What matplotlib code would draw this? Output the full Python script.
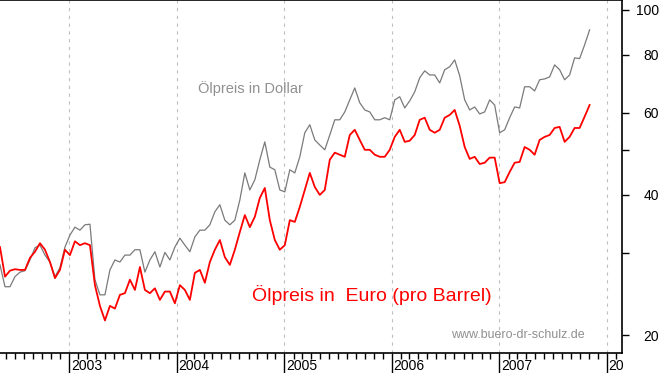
import matplotlib
matplotlib.use("Agg")
import matplotlib.pyplot as plt
import matplotlib.dates as mdates
import matplotlib.ticker as mticker
import numpy as np
import pandas as pd

dates = pd.date_range("2002-05-11", "2007-11-03", periods=119)

dollar = [28.3, 25.4, 25.4, 26.7, 27.3, 27.5, 29.0, 30.8, 31.2, 29.7,
          28.7, 26.7, 27.9, 30.9, 32.8, 34.1, 33.6, 34.5, 34.6, 26.3,
          24.4, 24.4, 27.6, 29.0, 28.7, 29.7, 29.7, 30.5, 30.5, 27.3,
          29.0, 30.2, 28.0, 30.1, 29.0, 30.9, 32.3, 31.2, 30.2, 32.5,
          33.6, 33.6, 34.5, 36.8, 38.1, 35.3, 34.5, 35.3, 39.0, 44.6,
          41.0, 43.1, 47.6, 52.0, 45.9, 45.3, 41.0, 40.6, 45.3, 44.6,
          48.3, 54.4, 56.6, 52.5, 51.2, 50.0, 53.8, 58.0, 58.0, 60.3,
          64.0, 67.9, 63.1, 60.9, 60.3, 58.0, 58.0, 58.6, 58.0, 64.0,
          65.0, 61.5, 63.7, 66.6, 71.4, 73.9, 72.4, 72.4, 69.6, 74.3,
          75.4, 78.0, 72.1, 64.0, 60.9, 61.8, 59.7, 60.3, 64.0, 62.4,
          54.4, 55.2, 58.6, 61.8, 61.5, 68.3, 68.3, 66.9, 70.7, 71.0,
          71.7, 76.1, 74.3, 70.7, 72.4, 78.8, 78.5, 84.0, 90.5]

euro = [30.9, 26.7, 27.5, 27.7, 27.6, 27.6, 29.3, 30.2, 31.5, 30.5,
        28.7, 26.5, 27.6, 30.5, 29.7, 31.8, 31.2, 31.5, 31.2, 25.6,
        23.1, 21.5, 23.1, 22.8, 24.4, 24.6, 26.3, 25.0, 28.0, 25.0,
        24.6, 25.2, 23.8, 24.8, 24.8, 23.4, 25.6, 25.0, 23.8, 27.2,
        27.6, 25.9, 28.7, 30.5, 32.0, 29.4, 28.3, 30.5, 33.3, 36.2,
        34.1, 35.9, 39.4, 41.4, 35.3, 32.0, 30.5, 31.2, 35.3, 35.0,
        37.7, 41.0, 44.6, 41.6, 40.0, 41.0, 47.6, 49.3, 48.8, 48.3,
        53.8, 55.2, 52.5, 50.0, 50.0, 48.8, 48.3, 48.3, 50.0, 53.3,
        55.2, 52.0, 52.3, 53.8, 58.0, 58.6, 55.2, 54.4, 55.2, 58.6,
        59.4, 60.9, 56.3, 50.7, 47.8, 48.3, 46.6, 46.9, 48.1, 48.1,
        42.4, 42.6, 44.8, 46.9, 47.1, 50.7, 50.0, 48.8, 52.5, 53.3,
        53.8, 55.7, 56.0, 52.0, 53.3, 55.7, 55.7, 58.9, 62.4]

years = [2003, 2004, 2005, 2006, 2007, 2008]
year_labels = ["2003", "2004", "2005", "2006", "2007", "20"]
y_ticks = [20, 30, 40, 50, 60, 80, 100]
y_labels = ["20", "", "40", "", "60", "80", "100"]

plt.rcParams['font.family'] = ['Liberation Sans', 'DejaVu Sans']

fig = plt.figure(figsize=(6.63, 3.73), dpi=100)
ax = fig.add_axes([0, 20 / 373, 622 / 663, 353 / 373])

ax.plot(dates, dollar, color="#7a7a7a", lw=0.9)
ax.plot(dates, euro, color="#ff0000", lw=1.3)

ax.set_yscale("log")
ax.set_ylim(18.3, 104.9)
ax.set_xlim(pd.Timestamp("2002-05-11"), pd.Timestamp("2008-02-21"))

# y-Achse rechts
ax.yaxis.tick_right()
ax.yaxis.set_major_locator(mticker.FixedLocator(y_ticks))
ax.yaxis.set_major_formatter(mticker.FixedFormatter(y_labels))
ax.yaxis.set_minor_locator(mticker.NullLocator())
ax.tick_params(axis="y", direction="out", length=5, width=1, pad=21.6,
               labelsize=10)
for lab in ax.get_yticklabels():
    lab.set_horizontalalignment("right")

# x-Achse: Monatsstriche, lange Jahresstriche
year_dates = [pd.Timestamp(f"{y}-01-01") for y in years]
ax.xaxis.set_major_locator(mticker.FixedLocator(mdates.date2num(year_dates)))
ax.xaxis.set_major_formatter(mticker.NullFormatter())
ax.xaxis.set_minor_locator(mdates.MonthLocator())
ax.tick_params(axis="x", which="major", direction="out", length=14.5, width=1)
ax.tick_params(axis="x", which="minor", direction="out", length=4.5, width=1)
for d, lab in zip(year_dates, year_labels):
    ax.annotate(lab, xy=(d, 0), xycoords=("data", "axes fraction"),
                xytext=(1.2, -9.6), textcoords="offset points",
                ha="left", va="center", fontsize=10, annotation_clip=False)
    ax.axvline(d, color="#c0c0c0", lw=0.8, ls=(0, (3, 4)), zorder=0)

ax.spines["left"].set_visible(False)
for s in ["top", "right", "bottom"]:
    ax.spines[s].set_linewidth(1.2)

ax.text(0.402, 0.75, "Ölpreis in Dollar", transform=ax.transAxes,
        color="#909090", fontsize=10.5, ha="center", va="center")
ax.text(0.597, 0.163, "Ölpreis in  Euro (pro Barrel)", transform=ax.transAxes,
        color="#ff0000", fontsize=14, ha="center", va="center")
ax.text(0.832, 0.051, "www.buero-dr-schulz.de", transform=ax.transAxes,
        color="#909090", fontsize=9, ha="center", va="center")

plt.savefig("out.png", dpi=100)
